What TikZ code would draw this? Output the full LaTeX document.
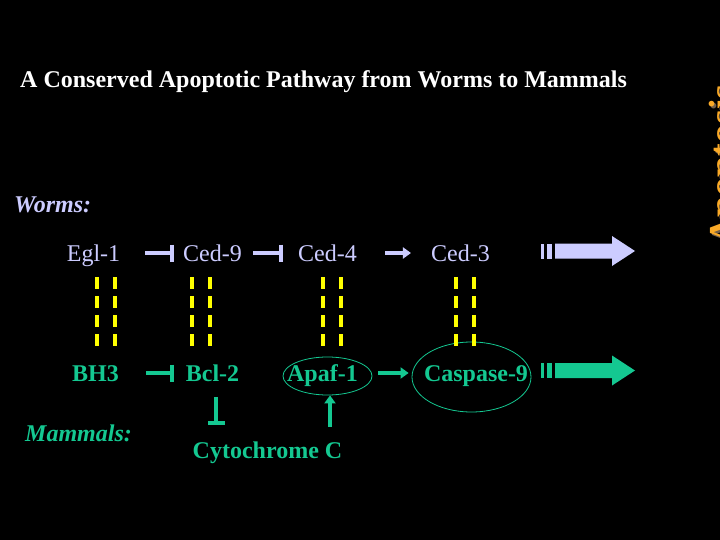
\documentclass[tikz,border=0pt]{standalone}
\usepackage{fontspec}
\setmainfont{Liberation Serif}
\definecolor{wormlav}{RGB}{204, 204, 255}
\definecolor{mamteal}{RGB}{20, 200, 145}
\definecolor{pairyellow}{RGB}{255, 255, 0}
\definecolor{apoorange}{RGB}{250, 170, 40}
\definecolor{aposhadow}{RGB}{115, 95, 75}
\usetikzlibrary{arrows.meta, shapes.geometric}

\begin{document}
\begin{tikzpicture}[
  x=1pt, y=-1pt,
  lbl/.style={inner sep=0pt, text height=16pt, text depth=0pt, font=\fontsize{24}{28}\selectfont},
  worm/.style={lbl, text=wormlav},
  mam/.style={lbl, text=mamteal, font=\fontsize{24}{28}\selectfont\bfseries},
  ring/.style={draw=mamteal, ellipse, line width=0.8pt, inner sep=0pt},
  inhib/.style={line width=3.5pt, -{Bar[width=17pt, line width=4pt]}},
  activ/.style={line width=3.5pt, -{Triangle[length=8pt, width=11pt]}},
  pairdash/.style={pairyellow, line width=3.5pt, dash pattern=on 12pt off 7pt, shorten <=24pt, shorten >=25pt},
  apoptext/.style={inner sep=0pt, font=\fontsize{38}{40}\selectfont\bfseries}
]
  \fill[black] (0,0) rectangle (720,540);
  \useasboundingbox (0,0) rectangle (720,540);

  \node[lbl, text=white, anchor=west, font=\fontsize{24}{28}\selectfont\bfseries] (title) at (20,80) {A Conserved Apoptotic Pathway from Worms to Mammals};

  % worms row
  \node[worm, anchor=west, font=\fontsize{24}{28}\selectfont\bfseries\itshape] (wormslbl) at (14,205) {Worms:};
  \node[worm] (egl) at (93.5,253) {Egl-1};
  \node[worm] (ced9) at (212.5,253) {Ced-9};
  \node[worm] (ced4) at (327.5,253) {Ced-4};
  \node[worm] (ced3) at (460.5,253) {Ced-3};

  % mammals row
  \node[mam] (bh3) at (95.5,373) {BH3};
  \node[mam] (bcl2) at (212.5,373) {Bcl-2};
  \node[mam] (apaf) at (322.5,373) {Apaf-1};
  \node[mam] (casp) at (476,373) {Caspase-9};
  \node[ring, minimum width=89pt, minimum height=38pt] (apafring) at (327.5,376) {};
  \node[ring, minimum width=119pt, minimum height=70pt] (caspring) at (471.5,377) {};
  \node[mam, anchor=west, font=\fontsize{24}{28}\selectfont\bfseries\itshape] (mamlbl) at (25,433) {Mammals:};
  \node[mam] (cytc) at (267.5,450) {Cytochrome C};

  \draw[inhib, wormlav, shorten <=25pt, shorten >=9pt] (egl.east) -- (ced9.west);
  \draw[inhib, wormlav, shorten <=11pt, shorten >=15pt] (ced9.east) -- (ced4.west);
  \draw[activ, wormlav, shorten <=28pt, shorten >=20pt] (ced4.east) -- (ced3.west);
  \draw[inhib, mamteal, shorten <=27pt, shorten >=12pt] (bh3.east) -- (bcl2.west);
  \draw[activ, mamteal, shorten <=6pt, shorten >=3pt] ([yshift=3pt]apafring.east) -- ([yshift=3pt]apafring.east -| caspring.west);
  \draw[inhib, mamteal, shorten <=16pt, shorten >=17pt] ([xshift=3.5pt]bcl2.south) -- ([xshift=3.5pt]bcl2.south |- cytc.north);
  \draw[activ, mamteal, shorten <=15pt] ([xshift=2.5pt]apafring.south |- cytc.north) -- ([xshift=2.5pt]apafring.south);

  % conserved pairs
  \foreach \a/\b/\dx in {egl/bh3/3.5, egl/bh3/21.5, ced9/bcl2/-20.5, ced9/bcl2/-2.5,
                         ced4/apafring/-4.5, ced4/apafring/13.5, ced3/caspring/-4.5, ced3/caspring/13.5}
    \draw[pairdash] ([xshift=\dx pt]\a.center) -- ([xshift=\dx pt]\a.center |- \b.center);

  % striped block arrows
  \foreach \y/\c in {251/wormlav, 370.5/mamteal} {
    \fill[\c] (541,\y-7.5) rectangle (543.5,\y+7.5);
    \fill[\c] (547,\y-7.5) rectangle (552,\y+7.5);
    \fill[\c] (555,\y-7.5) -- (612,\y-7.5) -- (612,\y-15) -- (635,\y)
      -- (612,\y+15) -- (612,\y+7.5) -- (555,\y+7.5) -- cycle;
  }

  \begin{scope}
    \clip (0,0) rectangle (720,540);
    \node[apoptext, text=aposhadow, anchor=base west, rotate=90] (aposhadow) at (737,247) {Apoptosis};
    \node[apoptext, text=apoorange, anchor=base west, rotate=90] (apolbl) at (735,245) {Apoptosis};
  \end{scope}
\end{tikzpicture}
\end{document}
